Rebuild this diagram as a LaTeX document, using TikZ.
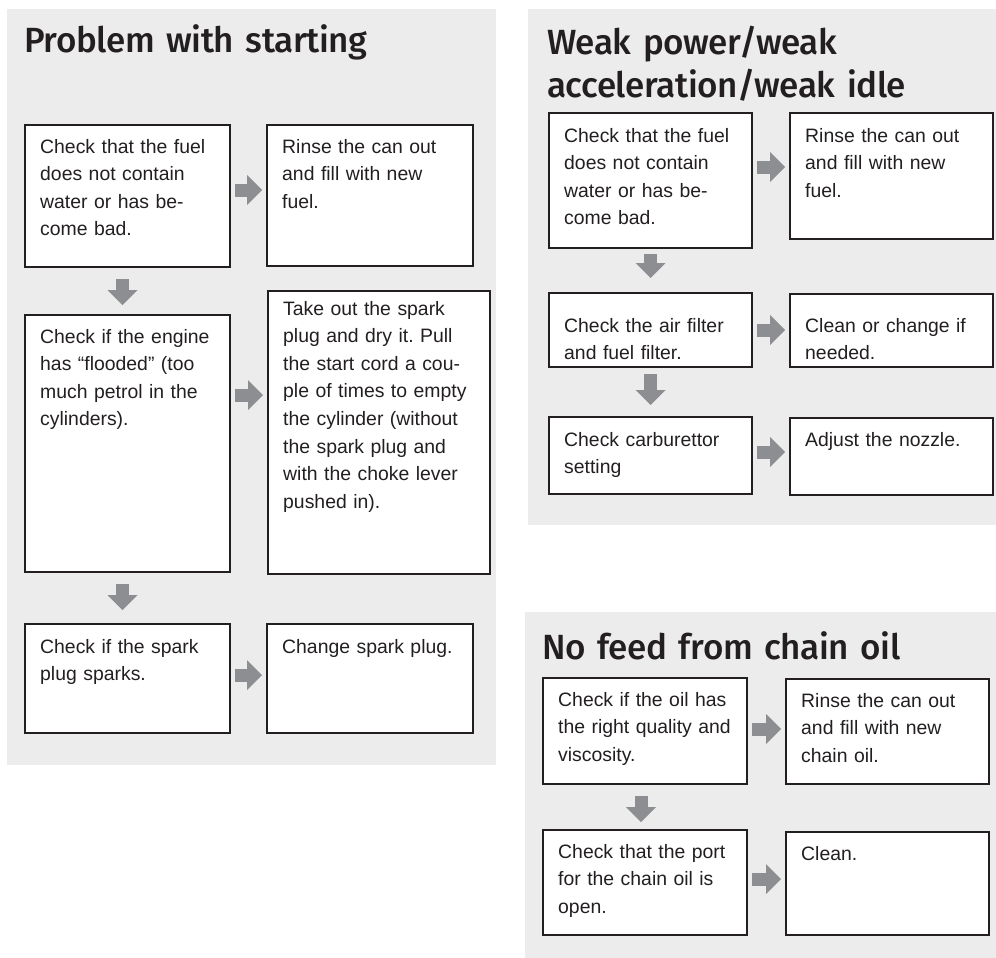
\documentclass[tikz,border=0pt]{standalone}
\usepackage{fontspec}
\setmainfont{Liberation Sans}
\newfontfamily\headfont{Fira Sans Medium}[LetterSpace=-1.2]
\usetikzlibrary{arrows.meta}
\frenchspacing

\definecolor{panelgray}{HTML}{ECECEC}
\definecolor{arrowgray}{HTML}{8C8E91}
\definecolor{inkdark}{HTML}{231F20}

\begin{document}
\begin{tikzpicture}[x=1pt,y=-1pt,
  stepbox/.style={draw=inkdark, line width=2pt, fill=white, anchor=north west, inner sep=0pt},
  steptext/.style={anchor=base west, inner sep=0pt, xshift=16pt, yshift=-29pt, text width=205pt, align=left, text=inkdark, font=\fontsize{19.4}{27.6}\selectfont},
  headtext/.style={anchor=base west, inner sep=0pt, text width=440pt, align=left, text=inkdark, font=\headfont\fontsize{35}{43}\selectfont},
  flow/.style={draw=arrowgray, line width=13pt, -{Triangle[width=30pt,length=15pt,line width=0pt]}},
  flowright/.style={flow, shorten <=4pt, shorten >=4pt}]
\useasboundingbox (0,0) rectangle (996,958);

% Background panels
\fill[panelgray] (7,9) rectangle (496,765);
\fill[panelgray] (528,9) rectangle (996,525);
\fill[panelgray] (525,612) rectangle (996,958);

% Headings
\node[headtext] (h1) at (24,53) {Problem with starting};
\node[headtext] (h2) at (547,55) {Weak power/weak\\acceleration/weak idle};
\node[headtext] (h3) at (542,659) {No feed from chain oil};

% Problem with starting
\node[stepbox, minimum width=205pt, minimum height=142pt] (s1) at (24,124) {};
\node[stepbox, minimum width=206pt, minimum height=141pt] (s2) at (266,124) {};
\node[stepbox, minimum width=205pt, minimum height=257pt] (s3) at (24,314) {};
\node[stepbox, minimum width=222pt, minimum height=283pt] (s4) at (267,290) {};
\node[stepbox, minimum width=205pt, minimum height=109pt] (s5) at (24,623) {};
\node[stepbox, minimum width=206pt, minimum height=109pt] (s6) at (266,623) {};

\node[steptext] (s1t) at (s1.north west) {Check that the fuel\\does not contain\\water or has be-\\come bad.};
\node[steptext] (s2t) at (s2.north west) {Rinse the can out\\and fill with new\\fuel.};
\node[steptext] (s3t) at (s3.north west) {Check if the engine\\has “flooded” (too\\much petrol in the\\cylinders).};
\node[steptext, yshift=4pt] (s4t) at (s4.north west) {Take out the spark\\plug and dry it. Pull\\the start cord a cou-\\ple of times to empty\\the cylinder (without\\the spark plug and\\with the choke lever\\pushed in).};
\node[steptext, yshift=-1pt] (s5t) at (s5.north west) {Check if the spark\\plug sparks.};
\node[steptext, yshift=-1pt] (s6t) at (s6.north west) {Change spark plug.};

\coordinate (sa1) at ([yshift=-66pt]s1.north east);
\coordinate (sa2) at ([yshift=-81pt]s3.north east);
\coordinate (sa3) at ([yshift=-52pt]s5.north east);
\draw[flowright] (sa1) -- (sa1 -| s2.west);
\draw[flowright] (sa2) -- (sa2 -| s4.west);
\draw[flowright] (sa3) -- (sa3 -| s6.west);
\draw[flow, shorten <=11pt, shorten >=9pt] ([xshift=-5pt]s1.south) -- ([xshift=-5pt]s3.north);
\draw[flow, shorten <=11pt, shorten >=13pt] ([xshift=-5pt]s3.south) -- ([xshift=-5pt]s5.north);

% Weak power
\node[stepbox, minimum width=203pt, minimum height=135pt] (r1) at (548,112) {};
\node[stepbox, minimum width=203pt, minimum height=126pt] (r2) at (789,112) {};
\node[stepbox, minimum width=203pt, minimum height=74pt] (r3) at (548,292) {};
\node[stepbox, minimum width=203pt, minimum height=73pt] (r4) at (789,293) {};
\node[stepbox, minimum width=203pt, minimum height=77pt] (r5) at (548,416) {};
\node[stepbox, minimum width=203pt, minimum height=77pt] (r6) at (789,417) {};

\node[steptext, yshift=-1pt] (r1t) at (r1.north west) {Check that the fuel\\does not contain\\water or has be-\\come bad.};
\node[steptext, yshift=-1pt] (r2t) at (r2.north west) {Rinse the can out\\and fill with new\\fuel.};
\node[steptext, yshift=-11pt] (r3t) at (r3.north west) {Check the air filter\\and fuel filter.};
\node[steptext, yshift=-10pt] (r4t) at (r4.north west) {Clean or change if\\needed.};
\node[steptext, yshift=-1pt] (r5t) at (r5.north west) {Check carburettor\\setting};
\node[steptext] (r6t) at (r6.north west) {Adjust the nozzle.};

\coordinate (ra1) at ([yshift=-55pt]r1.north east);
\coordinate (ra2) at ([yshift=-38pt]r3.north east);
\coordinate (ra3) at ([yshift=-36pt]r5.north east);
\draw[flowright] (ra1) -- (ra1 -| r2.west);
\draw[flowright] (ra2) -- (ra2 -| r4.west);
\draw[flowright] (ra3) -- (ra3 -| r6.west);
\draw[flow, shorten <=5pt, shorten >=14pt] (r1.south) -- (r3.north);
\draw[flow, shorten <=6pt, shorten >=11pt] (r3.south) -- (r5.north);

% No feed from chain oil
\node[stepbox, minimum width=204pt, minimum height=106pt] (b1) at (542,677) {};
\node[stepbox, minimum width=203pt, minimum height=105pt] (b2) at (785,678) {};
\node[stepbox, minimum width=204pt, minimum height=105pt] (b3) at (542,829) {};
\node[stepbox, minimum width=203pt, minimum height=103pt] (b4) at (785,831) {};

\node[steptext] (b1t) at (b1.north west) {Check if the oil has\\the right quality and\\viscosity.};
\node[steptext] (b2t) at (b2.north west) {Rinse the can out\\and fill with new\\chain oil.};
\node[steptext] (b3t) at (b3.north west) {Check that the port\\for the chain oil is\\open.};
\node[steptext] (b4t) at (b4.north west) {Clean.};

\coordinate (ba1) at ([yshift=-52pt]b1.north east);
\coordinate (ba2) at ([yshift=-50pt]b3.north east);
\draw[flowright] (ba1) -- (ba1 -| b2.west);
\draw[flowright] (ba2) -- (ba2 -| b4.west);
\draw[flow, shorten <=11pt, shorten >=7pt] ([xshift=-4pt]b1.south) -- ([xshift=-4pt]b3.north);
\end{tikzpicture}
\end{document}
